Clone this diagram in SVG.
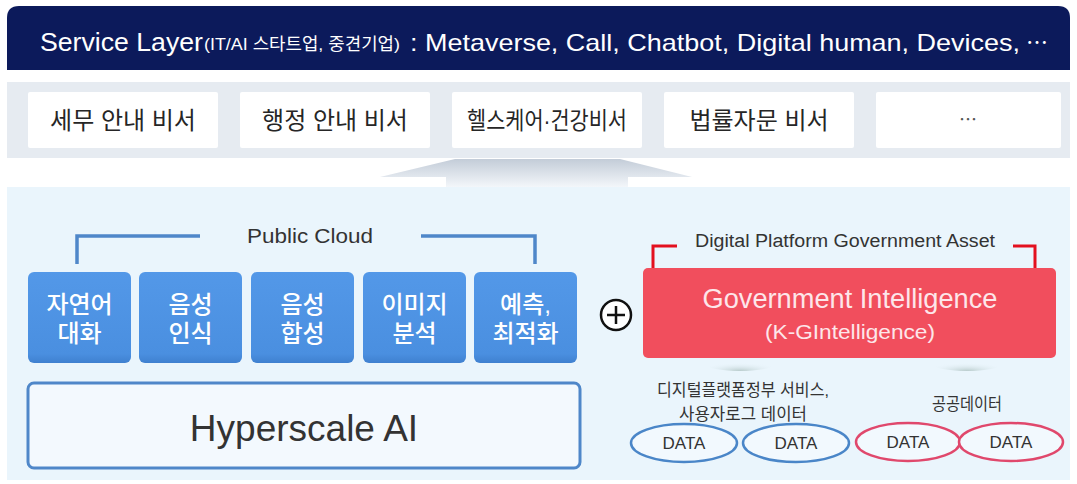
<svg xmlns="http://www.w3.org/2000/svg" width="1077" height="484" viewBox="0 0 1077 484">
<style>
.kr{font-family:"Liberation Sans","Noto Sans CJK KR",sans-serif}
.cjk{font-family:"Noto Sans CJK KR",sans-serif}
.svc{fill:#ffffff}
.sbox{fill:#ffffff}
.stxt{font-size:24px;fill:#262626;text-anchor:middle}
.bbox{fill:url(#blueg)}
.btxt{font-size:24px;fill:#ffffff;text-anchor:middle;font-weight:500}
.blk{fill:none;stroke:#4f87c9;stroke-width:3.5}
.rbk{fill:none;stroke:#e3101f;stroke-width:3}
.lbl{fill:#333333;text-anchor:middle}
.ell{fill:#f2f9fe;stroke-width:2.5}
.dtxt{font-size:17px;fill:#333333;text-anchor:middle}
</style>
<defs>
<linearGradient id="blueg" x1="0" y1="0" x2="0" y2="1">
<stop offset="0" stop-color="#5398e8"/>
<stop offset="0.9" stop-color="#4a8fe0"/>
<stop offset="1" stop-color="#3f80cf"/>
</linearGradient>
<linearGradient id="trap" x1="0" y1="0" x2="0" y2="1">
<stop offset="0" stop-color="#c3ccd8"/>
<stop offset="1" stop-color="#f3f6fa"/>
</linearGradient>
<radialGradient id="shad" cx="0.5" cy="1" r="0.6">
<stop offset="0" stop-color="#b9cccc"/>
<stop offset="1" stop-color="#eaf5fc" stop-opacity="0"/>
</radialGradient>
</defs>
<rect x="0" y="0" width="1077" height="484" fill="#ffffff"/>
<!-- Service layer banner -->
<g id="service-layer">
<path d="M7,70 V18 Q7,6 19,6 H1058 Q1070,6 1070,18 V70 Z" fill="#0c1a5b"/>
<text class="kr svc" x="40" y="51" font-size="25" textLength="163" lengthAdjust="spacingAndGlyphs">Service Layer</text>
<text class="kr svc" x="204" y="50" font-size="17" textLength="196" lengthAdjust="spacingAndGlyphs">(IT/AI 스타트업, 중견기업)</text>
<text class="kr svc" x="410" y="51" font-size="24" textLength="610" lengthAdjust="spacingAndGlyphs">: Metaverse, Call, Chatbot, Digital human, Devices,</text>
<text class="cjk svc" x="1026" y="50" font-size="22">⋯</text>
</g>
<!-- service band -->
<rect x="7" y="82" width="1063" height="76" fill="#e6ebf1"/>
<g id="svc-tax"><rect class="sbox" x="28" y="92" width="190" height="56" rx="2"/><text class="kr stxt" x="123" y="129">세무 안내 비서</text></g>
<g id="svc-admin"><rect class="sbox" x="240" y="92" width="190" height="56" rx="2"/><text class="kr stxt" x="335" y="129">행정 안내 비서</text></g>
<g id="svc-health"><rect class="sbox" x="452" y="92" width="190" height="56" rx="2"/><text class="kr stxt" x="547" y="129" textLength="160" lengthAdjust="spacingAndGlyphs">헬스케어·건강비서</text></g>
<g id="svc-law"><rect class="sbox" x="664" y="92" width="190" height="56" rx="2"/><text class="kr stxt" x="759" y="129">법률자문 비서</text></g>
<g id="svc-more"><rect class="sbox" x="876" y="92" width="185" height="56" rx="2"/><text class="cjk" x="968" y="126" font-size="18" fill="#555555" text-anchor="middle">⋯</text></g>
<!-- lower panel -->
<rect x="7" y="187" width="1063" height="293" fill="#eaf5fc"/>
<polygon points="455,159 620,159 692,177 628,177 628,187 446,187 446,177 380,177" fill="url(#trap)"/>
<!-- connectors / brackets -->
<g id="connectors">
<path class="blk" d="M77,264 V236 H200"/>
<path class="blk" d="M421,236 H535 V264"/>
<path class="rbk" d="M653,268 V246 H677"/>
<path class="rbk" d="M1013,246 H1035 V268"/>
<ellipse cx="740" cy="364" rx="34" ry="7" fill="url(#shad)"/>
<ellipse cx="967" cy="364" rx="34" ry="7" fill="url(#shad)"/>
</g>
<g id="public-cloud-label"><text class="kr lbl" x="310" y="243" font-size="21" textLength="126" lengthAdjust="spacingAndGlyphs">Public Cloud</text></g>
<g id="ai-nlp"><rect class="bbox" x="28" y="272" width="103" height="91" rx="6"/><text class="kr btxt" x="79.5" y="313">자연어</text><text class="kr btxt" x="79.5" y="342">대화</text></g>
<g id="ai-stt"><rect class="bbox" x="139" y="272" width="103" height="91" rx="6"/><text class="kr btxt" x="190.5" y="313">음성</text><text class="kr btxt" x="190.5" y="342">인식</text></g>
<g id="ai-tts"><rect class="bbox" x="251" y="272" width="103" height="91" rx="6"/><text class="kr btxt" x="302.5" y="313">음성</text><text class="kr btxt" x="302.5" y="342">합성</text></g>
<g id="ai-image"><rect class="bbox" x="363" y="272" width="103" height="91" rx="6"/><text class="kr btxt" x="414.5" y="313">이미지</text><text class="kr btxt" x="414.5" y="342">분석</text></g>
<g id="ai-predict"><rect class="bbox" x="474" y="272" width="103" height="91" rx="6"/><text class="kr btxt" x="525.5" y="313">예측,</text><text class="kr btxt" x="525.5" y="342">최적화</text></g>
<g id="hyperscale"><rect x="28" y="383" width="552" height="85" rx="6" fill="#f3f9fe" stroke="#4f87c9" stroke-width="3"/><text class="kr lbl" x="304" y="441" font-size="37">Hyperscale AI</text></g>
<g id="plus"><circle cx="616" cy="315" r="15" fill="#ffffff" stroke="#111111" stroke-width="2.5"/><path d="M607,315 H625 M616,306 V324" stroke="#111111" stroke-width="2.5"/></g>
<g id="dpg-label"><text class="kr lbl" x="845" y="247" font-size="18" textLength="300" lengthAdjust="spacingAndGlyphs">Digital Platform Government Asset</text></g>
<g id="gov-intelligence"><rect x="643" y="268" width="413" height="90" rx="5" fill="#f14e5d"/><text class="kr" x="850" y="308" font-size="27" fill="#fde6ea" text-anchor="middle" textLength="295" lengthAdjust="spacingAndGlyphs">Government Intelligence</text><text class="kr" x="850" y="339" font-size="21" fill="#fde6ea" text-anchor="middle" textLength="170" lengthAdjust="spacingAndGlyphs">(K-GIntelligence)</text></g>
<g id="dpg-data-label"><text class="kr lbl" x="743" y="396" font-size="17" textLength="172" lengthAdjust="spacingAndGlyphs">디지털플랫폼정부 서비스,</text><text class="kr lbl" x="743" y="420" font-size="17" textLength="128" lengthAdjust="spacingAndGlyphs">사용자로그 데이터</text></g>
<g id="public-data-label"><text class="kr lbl" x="967" y="410" font-size="17" textLength="70" lengthAdjust="spacingAndGlyphs">공공데이터</text></g>
<g id="data1"><ellipse class="ell" cx="684" cy="443" rx="53" ry="19" stroke="#4a86c8"/><text class="kr dtxt" x="684" y="449">DATA</text></g>
<g id="data2"><ellipse class="ell" cx="796" cy="443" rx="53" ry="19" stroke="#4a86c8"/><text class="kr dtxt" x="796" y="449">DATA</text></g>
<g id="data3"><ellipse class="ell" cx="908" cy="442" rx="52" ry="19" stroke="#e0486c"/><text class="kr dtxt" x="908" y="448">DATA</text></g>
<g id="data4"><ellipse class="ell" cx="1011" cy="442" rx="52" ry="19" stroke="#e0486c"/><text class="kr dtxt" x="1011" y="448">DATA</text></g>
</svg>
